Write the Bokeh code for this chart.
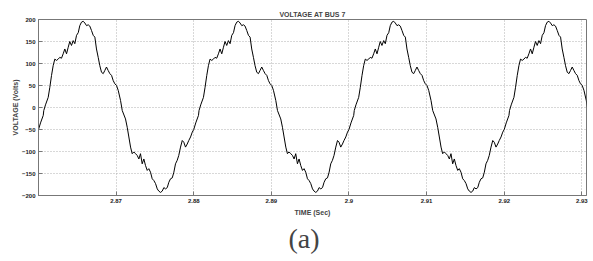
from bokeh.plotting import figure
from bokeh.models import FixedTicker, Title, ColumnDataSource, Range1d
from bokeh.embed import file_html
from bokeh.resources import INLINE

# One cycle (20 ms) of the waveform: offset in ms, voltage in volts
cycle_ms = [0.00, 0.26, 0.61, 0.68, 0.90, 1.25, 1.46, 1.68, 1.89, 2.10, 2.32, 2.54, 2.74,
            2.96, 3.18, 3.39, 3.61, 3.83, 4.03, 4.25, 4.47, 4.68, 4.90, 5.12, 5.32, 5.54,
            5.76, 5.97, 6.19, 6.40, 6.61, 6.83, 7.05, 7.26, 7.47, 7.69, 7.90, 8.12, 8.34,
            8.54, 8.76, 8.98, 9.19, 9.41, 9.63, 9.83, 10.05, 10.27, 10.57, 10.79, 11.21,
            11.43, 11.64, 11.86, 12.07, 12.28, 12.50, 12.72, 12.93, 13.14, 13.36, 13.57,
            13.79, 14.01, 14.21, 14.43, 14.65, 14.86, 15.08, 15.30, 15.50, 15.72, 15.94,
            16.15, 16.37, 16.59, 16.79, 17.01, 17.23, 17.44, 17.65, 17.87, 18.07, 18.30,
            18.52, 18.72, 18.94, 19.16, 19.36, 19.59, 19.81]
cycle_v = [-50, -35, -18, -7, 6, 23, 46, 73, 95, 110, 107, 110, 114,
           112, 122, 133, 122, 137, 150, 141, 152, 145, 164, 170, 186, 194,
           196, 192, 186, 188, 185, 175, 164, 160, 133, 114, 95, 80, 77,
           84, 92, 84, 77, 73, 61, 54, 50, 39, 16, -7, -26,
           -45, -67, -90, -105, -101, -105, -109, -117, -105, -128, -117,
           -132, -143, -139, -147, -162, -166, -173, -185, -190, -193, -190,
           -182, -185, -182, -170, -162, -160, -147, -128, -120, -109, -90,
           -75, -79, -90, -83, -75, -67, -56]
cycle_starts = [2.86, 2.88, 2.90, 2.92]
t_end = 2.9312

x_ticks = [2.87, 2.88, 2.89, 2.90, 2.91, 2.92, 2.93]
x_tick_labels = ["2.87", "2.88", "2.89", "2.9", "2.91", "2.92", "2.93"]
y_ticks = [-200, -150, -100, -50, 0, 50, 100, 150, 200]

t, v = [], []
for s in cycle_starts:
    for ms, val in zip(cycle_ms, cycle_v):
        tt = s + ms / 1000.0
        if tt <= t_end:
            t.append(tt)
            v.append(val)

src = ColumnDataSource(dict(t=t, v=v))

FONT = "Liberation Sans"
p = figure(frame_width=548, frame_height=176,
           x_range=Range1d(2.86, 2.9306), y_range=Range1d(-200, 200),
           output_backend="svg", toolbar_location=None,
           min_border_left=38, min_border_right=7, min_border_top=19, min_border_bottom=0)

p.title.text = "VOLTAGE AT BUS 7"
p.title.align = "center"
p.title.text_font = FONT
p.title.text_font_size = "7px"
p.title.text_font_style = "bold"
p.title.standoff = 3

p.line("t", "v", source=src, line_color="black", line_width=1.0)

for ax in (p.xaxis[0], p.yaxis[0]):
    ax.major_label_text_font = FONT
    ax.major_label_text_font_size = "6px"
    ax.major_label_text_font_style = "bold"
    ax.major_label_text_color = "#222222"
    ax.axis_label_text_font = FONT
    ax.axis_label_text_font_size = "7px"
    ax.axis_label_text_font_style = "bold"
    ax.major_tick_in = 4
    ax.major_tick_out = 0
    ax.minor_tick_line_color = None
    ax.axis_line_color = "#777777"
    ax.major_tick_line_color = "#777777"

p.xaxis.axis_label_standoff = 3
p.xaxis.major_label_standoff = 3
p.yaxis.axis_label_standoff = 0
p.yaxis.major_label_standoff = 3

p.xaxis.ticker = FixedTicker(ticks=x_ticks)
p.xaxis.major_label_overrides = {tk: lb for tk, lb in zip(x_ticks, x_tick_labels)}
p.yaxis.ticker = FixedTicker(ticks=y_ticks)
p.xaxis.axis_label = "TIME (Sec)"
p.yaxis.axis_label = "VOLTAGE (Volts)"

p.xgrid.grid_line_color = "#b0b0b0"
p.xgrid.grid_line_dash = "1 2"
p.ygrid.grid_line_color = "#b0b0b0"
p.ygrid.grid_line_dash = "1 2"
p.outline_line_color = "#777777"

cap = Title(text="(a)", align="left", offset=250, text_font="Liberation Serif",
            text_font_size="28px", text_font_style="normal", standoff=4)
p.add_layout(cap, "below")

open("out.html", "w").write(file_html(p, INLINE))
